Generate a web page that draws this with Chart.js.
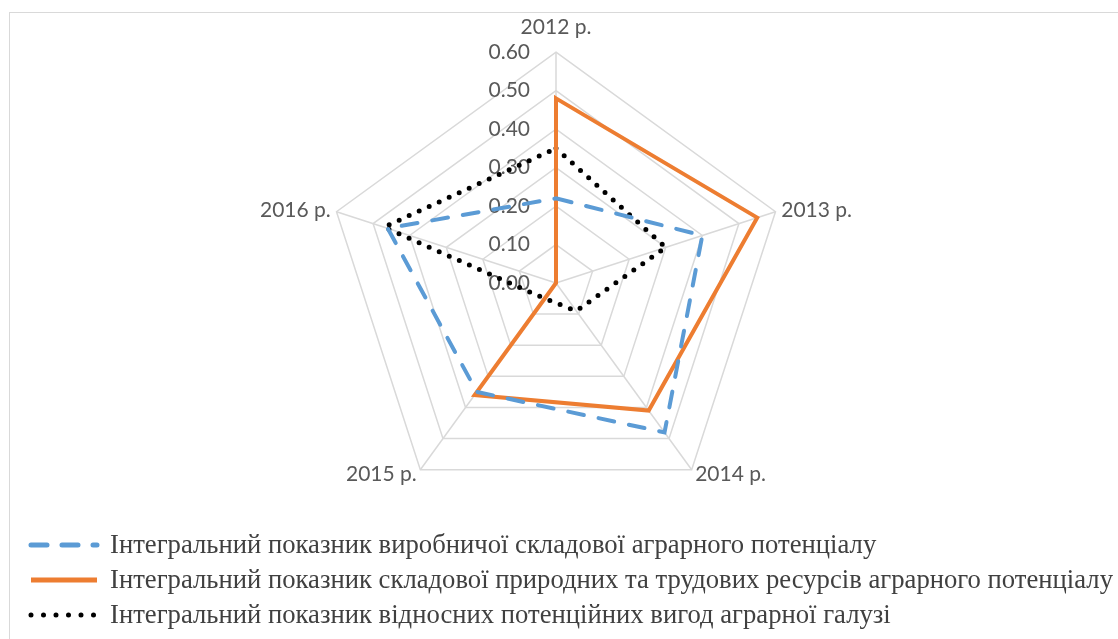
<!DOCTYPE html>
<html>
<head>
<meta charset="utf-8">
<script src="https://cdn.jsdelivr.net/npm/chart.js@4"></script>
<style>
  html, body { margin: 0; padding: 0; background: #fff; }
  #frame { position: absolute; left: 9px; top: 12px; width: 1130px; height: 660px; border: 1px solid #d9d9d9; box-sizing: border-box; }
  #wrap { position: absolute; left: 1px; top: 0; width: 1110px; height: 533px; }
  #legend { position: absolute; left: 26px; top: 527px; }
  .item { height: 35px; display: flex; align-items: center; white-space: nowrap; }
  .item svg { flex: 0 0 auto; margin-right: 10px; }
  .item span { font-family: "Liberation Serif", "DejaVu Serif", serif; font-size: 27px; color: #404040; display: inline-block; transform-origin: left center; }
</style>
</head>
<body>
<div id="frame"></div>
<div id="wrap"><canvas id="radar"></canvas></div>
<div id="legend"></div>
<script>
// ====================================================
// Data
// ====================================================
const years = ['2012 р.', '2013 р.', '2014 р.', '2015 р.', '2016 р.'];
const tickValues = [0, 0.1, 0.2, 0.3, 0.4, 0.5, 0.6];

const seriesNames = [
    'Інтегральний показник виробничої складової аграрного потенціалу',
    'Інтегральний показник складової природних та трудових ресурсів аграрного потенціалу',
    'Інтегральний показник відносних потенційних вигод аграрної галузі'
];
const production = [0.22, 0.40, 0.48, 0.35, 0.46];
const resources = [0.48, 0.55, 0.41, 0.36, 0.00];
const benefits = [0.35, 0.30, 0.09, 0.05, 0.47];

const labelFont = '21px Lato, "Open Sans", sans-serif';
const textColor = '#595959';

// ====================================================
// Tick labels left of the vertical axis + year labels
// placed beside each vertex (Excel style)
// ====================================================
const labelPlugin = {
    id: 'excelLabels',
    beforeDatasetsDraw(chart) {
        const scale = chart.scales.r;
        const ctx = chart.ctx;
        ctx.save();
        ctx.font = labelFont;
        ctx.fillStyle = textColor;
        ctx.textBaseline = 'middle';

        ctx.textAlign = 'right';
        scale.ticks.forEach(t => {
            const d = scale.getDistanceFromCenterForValue(t.value);
            ctx.fillText(t.value.toFixed(2), scale.xCenter - 26, scale.yCenter - d);
        });

        chart.data.labels.forEach((lbl, i) => {
            const p = scale.getPointPosition(i, scale.drawingArea + 6);
            let y = p.y;
            if (Math.abs(p.x - scale.xCenter) < 1) {
                ctx.textAlign = 'center';
                y -= 19;
            } else {
                ctx.textAlign = p.x > scale.xCenter ? 'left' : 'right';
            }
            ctx.fillText(lbl, p.x, y);
        });
        ctx.restore();
    }
};

// ====================================================
// Chart
// ====================================================
const chart = new Chart(document.getElementById('radar'), {
    type: 'radar',
    data: {
        labels: years,
        datasets: [{
            label: seriesNames[0],
            data: production,
            borderColor: '#5b9bd5',
            borderWidth: 4,
            borderDash: [16, 15],
            borderCapStyle: 'round',
            fill: false,
            pointRadius: 0
        }, {
            label: seriesNames[1],
            data: resources,
            borderColor: '#ed7d31',
            borderWidth: 4,
            fill: false,
            pointRadius: 0
        }, {
            label: seriesNames[2],
            data: benefits,
            borderColor: '#000000',
            borderWidth: 5,
            borderDash: [0, 11],
            borderCapStyle: 'round',
            fill: false,
            pointRadius: 0
        }]
    },
    options: {
        responsive: true,
        maintainAspectRatio: false,
        animation: false,
        layout: { padding: 0 },
        plugins: {
            legend: { display: false },
            tooltip: { enabled: false }
        },
        scales: {
            r: {
                min: 0,
                max: 0.6,
                afterBuildTicks(scale) {
                    scale.ticks = tickValues.map(v => ({ value: v }));
                },
                ticks: { display: false },
                grid: { color: '#d9d9d9', lineWidth: 1.5 },
                angleLines: { color: '#d9d9d9', lineWidth: 1.5 },
                pointLabels: {
                    // kept for layout fitting, drawn by the plugin instead
                    color: 'rgba(0,0,0,0)',
                    font: { family: 'Lato, "Open Sans", sans-serif', size: 21 },
                    padding: 10
                }
            }
        }
    },
    plugins: [labelPlugin]
});

// ====================================================
// HTML legend
// ====================================================
function buildLegend() {
    const legend = document.getElementById('legend');
    const strokes = [
        { dash: '16 15', cap: 'round', w: 5 },
        { dash: '', cap: 'butt', w: 5 },
        { dash: '0 12.5', cap: 'round', w: 5 }
    ];
    chart.data.datasets.forEach((ds, i) => {
        const row = document.createElement('div');
        row.className = 'item';
        const s = strokes[i];
        row.innerHTML =
            '<svg width="74" height="10"><line x1="5" y1="5" x2="71" y2="5" stroke="' + ds.borderColor +
            '" stroke-width="' + s.w + '" stroke-linecap="' + s.cap + '"' +
            (s.dash ? ' stroke-dasharray="' + s.dash + '"' : '') + '/></svg><span>' + ds.label + '</span>';
        legend.appendChild(row);
    });
    // squeeze text like the original (longest item ends near the right edge)
    const spans = legend.querySelectorAll('span');
    const widest = Math.max(...Array.from(spans).map(sp => sp.getBoundingClientRect().width));
    const k = 1003 / widest;
    spans.forEach(sp => sp.style.transform = 'scaleX(' + k + ')');
}
buildLegend();
</script>
</body>
</html>
